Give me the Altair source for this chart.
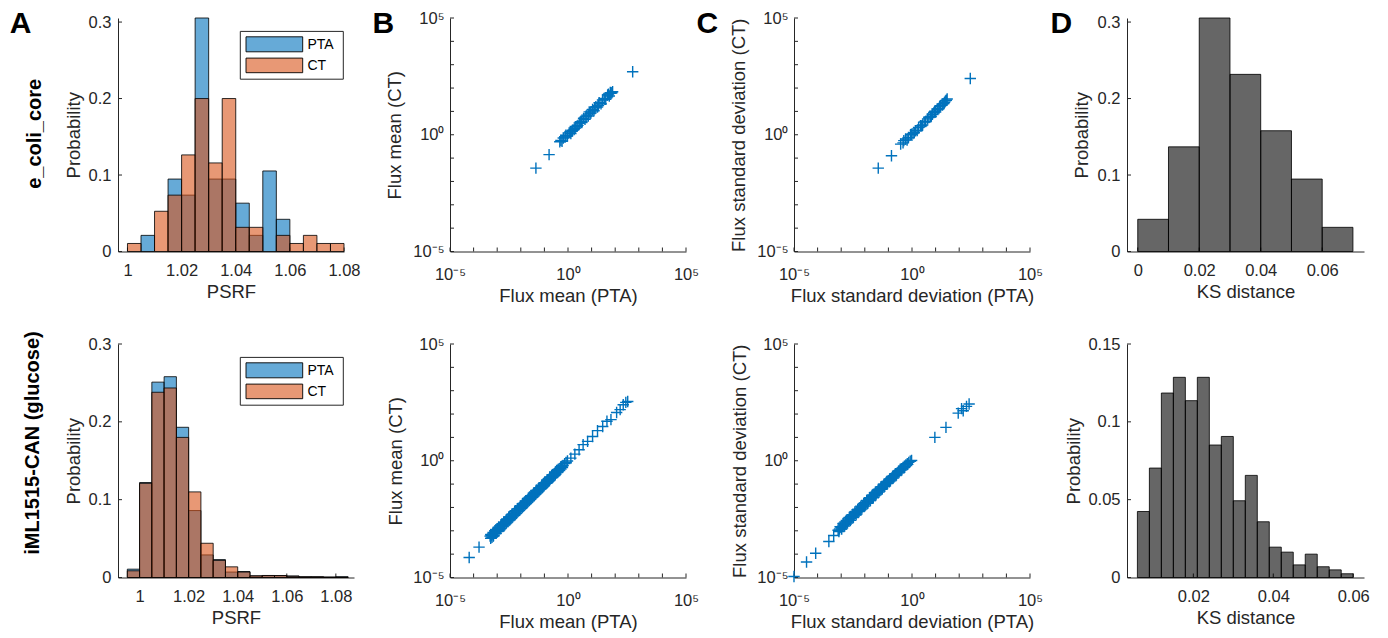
import altair as alt
import pandas as pd

FONT = "Liberation Sans"
INK = "#262626"
PTA_BLUE = "#0072BD"
CT_ORANGE = "#D95319"
HEIGHT = 233.5
PLUS = "M-1,0L1,0M0,-1L0,1"

# ---------------- data ----------------
series_names = ["PTA", "CT"]
row_names = ["e_coli_core", "iML1515-CAN (glucose)"]
panel_letters = ["A", "B", "C", "D"]

# PSRF histograms (probability per bin)
ecoli_psrf_edges = [1.000, 1.005, 1.010, 1.015, 1.020, 1.025, 1.030, 1.035, 1.040,
                    1.045, 1.050, 1.055, 1.060, 1.065, 1.070, 1.075, 1.080]
ecoli_psrf_pta = [0, 0.0211, 0, 0.0947, 0.0737, 0.3053, 0.0947, 0.0947,
                  0.0632, 0.0211, 0.1053, 0.0421, 0, 0, 0, 0]
ecoli_psrf_ct = [0.0105, 0, 0.0526, 0.0737, 0.1263, 0.2000, 0.1158, 0.2000,
                 0.0316, 0.0316, 0, 0.0211, 0.0105, 0.0211, 0.0105, 0.0105]

iml_psrf_edges = [0.995, 1.000, 1.005, 1.010, 1.015, 1.020, 1.025, 1.030, 1.035, 1.040,
                  1.045, 1.050, 1.055, 1.060, 1.065, 1.070, 1.075, 1.080, 1.085]
iml_psrf_pta = [0.0107, 0.1220, 0.2510, 0.2580, 0.1930, 0.0860, 0.0290, 0.0230, 0.0070,
                0.0077, 0.0021, 0.0026, 0.0025, 0.0020, 0.0010, 0.0010, 0.0005, 0.0010]
iml_psrf_ct = [0.0086, 0.1210, 0.2380, 0.2435, 0.1800, 0.1100, 0.0440, 0.0220, 0.0137,
               0.0070, 0.0021, 0.0025, 0.0025, 0.0015, 0.0008, 0.0008, 0.0005, 0.0005]

# KS distance histograms
ecoli_ks_edges = [0.00, 0.01, 0.02, 0.03, 0.04, 0.05, 0.06, 0.07]
ecoli_ks_prob = [0.0421, 0.1368, 0.3053, 0.2316, 0.1579, 0.0947, 0.0316]
iml_ks_edges = [0.006, 0.009, 0.012, 0.015, 0.018, 0.021, 0.024, 0.027, 0.030, 0.033,
                0.036, 0.039, 0.042, 0.045, 0.048, 0.051, 0.054, 0.057, 0.060]
iml_ks_prob = [0.0424, 0.0703, 0.1185, 0.1286, 0.1136, 0.1286, 0.0851, 0.0906, 0.0493,
               0.0656, 0.0358, 0.0195, 0.0163, 0.0081, 0.0150, 0.0069, 0.0049, 0.0024]

# Flux means / standard deviations, PTA vs CT
ecoli_mean_pta = [0.0437, 0.158, 0.501, 0.631, 0.813, 1.12, 1.32, 1.55, 1.82, 2.14, 2.63,
                  3.31, 3.80, 4.57, 5.25, 6.31, 7.24, 7.94, 9.33, 11.0, 12.6, 15.1, 17.8,
                  20.9, 25.1, 33.9, 39.8, 47.9, 56.2, 66.1, 77.6, 550,
                  0.45, 0.56, 0.75, 0.95, 1.25, 1.45, 2.0, 2.4, 3.0, 3.9, 5.8, 8.6,
                  13.5, 19.5, 29.0, 36.5, 52.0, 62.0, 72.0]
ecoli_mean_ct = [0.0372, 0.141, 0.575, 0.724, 0.955, 1.20, 1.12, 1.55, 1.66, 2.19, 2.51,
                 3.55, 3.31, 5.01, 4.57, 6.92, 6.31, 9.55, 8.51, 12.0, 10.7, 15.8, 15.5,
                 23.4, 21.4, 36.3, 33.1, 50.1, 45.7, 58.9, 69.2, 501,
                 0.50, 0.52, 0.80, 0.88, 1.38, 1.40, 1.9, 2.3, 3.2, 3.6, 6.2, 8.0,
                 14.5, 18.0, 31.0, 33.0, 55.0, 64.0, 63.0]

ecoli_sd_pta = [0.0372, 0.135, 0.331, 0.417, 0.537, 0.708, 0.871, 1.10, 1.41, 1.66, 2.29,
                2.82, 3.80, 4.57, 6.17, 7.24, 8.51, 10.0, 11.7, 13.8, 16.2, 19.1, 22.4,
                26.3, 30.9, 295,
                0.45, 0.62, 0.95, 1.25, 1.9, 2.55, 3.3, 5.2, 6.6, 9.2, 12.5, 15.0,
                20.5, 24.0, 28.5]
ecoli_sd_ct = [0.0372, 0.126, 0.398, 0.447, 0.661, 0.759, 1.00, 1.12, 1.48, 1.51, 2.45,
               2.63, 3.72, 4.79, 5.89, 7.59, 9.12, 9.33, 12.6, 13.2, 17.4, 18.6, 21.9,
               28.2, 33.9, 257,
               0.56, 0.59, 1.05, 1.22, 2.05, 2.4, 3.5, 5.5, 6.3, 10.2, 12.1, 16.3,
               21.0, 24.5, 30.0]

iml_mean_pta = [
    6.5e-5, 1.7e-4, 5.4e-4,
    5.0e-4, 5.6e-4, 6.4e-4, 7.3e-4, 8.4e-4, 9.7e-4,
    1.1e-3, 1.3e-3, 1.5e-3, 1.7e-3, 2.0e-3, 2.3e-3, 2.6e-3, 3.0e-3, 3.5e-3, 4.0e-3,
    4.6e-3, 5.3e-3, 6.1e-3, 7.0e-3, 8.1e-3, 9.3e-3,
    0.0107, 0.0123, 0.0141, 0.0163, 0.0188, 0.0215, 0.0248, 0.0286, 0.033, 0.038,
    0.0435, 0.050, 0.0575, 0.066, 0.076, 0.088,
    0.101, 0.116, 0.134, 0.154, 0.177, 0.204, 0.235, 0.27, 0.31, 0.357, 0.41, 0.47,
    0.54, 0.62, 0.72, 0.83, 0.95,
    6.8e-4, 1.2e-3, 2.1e-3, 3.7e-3, 6.5e-3, 0.0115, 0.020, 0.036, 0.062, 0.11, 0.20, 0.38,
    8.0e-4, 1.6e-3, 3.1e-3, 5.9e-3, 0.0118, 0.0235, 0.045, 0.09, 0.17, 0.33,
    5.3e-4, 6.0e-4, 7.0e-4, 9.0e-4, 1.05e-3, 1.4e-3, 1.85e-3, 2.45e-3, 2.8e-3, 3.3e-3,
    4.3e-3, 5.0e-3, 5.7e-3, 7.6e-3, 8.7e-3, 0.0100, 0.0132, 0.0152, 0.0176, 0.023,
    0.0265, 0.031, 0.041, 0.047, 0.054, 0.071, 0.082, 0.095, 0.125, 0.145,
    0.165, 0.22, 0.25, 0.29, 0.44, 0.5, 0.58,
    5.5e-4, 6.7e-4, 8.8e-4, 1.15e-3, 1.45e-3, 1.9e-3, 2.4e-3, 3.2e-3, 4.2e-3, 5.5e-3,
    7.2e-3, 9.5e-3, 0.0125, 0.016, 0.021, 0.027, 0.035, 0.046, 0.06, 0.078,
    0.10, 0.13, 0.17, 0.22, 0.29, 0.38, 0.5,
    1.32, 1.95, 2.95, 4.37, 6.76, 11.0, 17.8, 29.5, 44.7, 66.1, 115, 162, 219, 282, 339]
iml_mean_ct = [
    7.2e-5, 2.0e-4, 6.8e-4,
    5.9e-4, 6.2e-4, 7.3e-4, 8.1e-4, 9.6e-4, 1.05e-3,
    1.25e-3, 1.4e-3, 1.7e-3, 1.85e-3, 2.25e-3, 2.5e-3, 2.9e-3, 3.2e-3, 3.9e-3, 4.3e-3,
    5.1e-3, 5.7e-3, 6.8e-3, 7.4e-3, 8.9e-3, 9.9e-3,
    0.0116, 0.0131, 0.0154, 0.0171, 0.0203, 0.0226, 0.0268, 0.0298, 0.0356, 0.0395,
    0.0466, 0.052, 0.0612, 0.0683, 0.081, 0.0905,
    0.107, 0.121, 0.141, 0.159, 0.186, 0.21, 0.246, 0.277, 0.325, 0.364, 0.43, 0.48,
    0.565, 0.63, 0.75, 0.84, 0.98,
    5.9e-4, 1.0e-3, 1.8e-3, 3.2e-3, 5.6e-3, 0.010, 0.0175, 0.031, 0.055, 0.10, 0.18, 0.34,
    1.0e-3, 2.0e-3, 3.8e-3, 7.2e-3, 0.0143, 0.028, 0.054, 0.105, 0.20, 0.38,
    4.8e-4, 5.3e-4, 6.2e-4, 7.9e-4, 9.3e-4, 1.22e-3, 1.6e-3, 2.15e-3, 2.4e-3, 2.9e-3,
    3.7e-3, 4.4e-3, 4.9e-3, 6.6e-3, 7.5e-3, 8.8e-3, 0.0114, 0.0133, 0.0152, 0.020,
    0.023, 0.027, 0.0355, 0.041, 0.047, 0.062, 0.071, 0.083, 0.108, 0.126,
    0.143, 0.19, 0.22, 0.25, 0.385, 0.44, 0.51,
    7.0e-4, 8.4e-4, 1.1e-3, 1.42e-3, 1.8e-3, 2.35e-3, 2.95e-3, 3.9e-3, 5.1e-3, 6.7e-3,
    8.7e-3, 0.0114, 0.015, 0.019, 0.025, 0.032, 0.041, 0.054, 0.07, 0.09,
    0.116, 0.15, 0.195, 0.25, 0.325, 0.42, 0.55,
    1.29, 1.93, 2.95, 4.9, 6.76, 11.0, 19.5, 29.5, 49.0, 57.5, 117, 155, 251, 316, 347]

iml_sd_pta = [
    1.0e-5, 3.4e-5, 8.3e-5, 3.0e-4, 4.8e-4,
    7.4e-4, 8.5e-4, 9.8e-4, 1.13e-3, 1.3e-3, 1.5e-3, 1.72e-3, 2.0e-3, 2.3e-3, 2.65e-3,
    3.05e-3, 3.5e-3, 4.0e-3, 4.6e-3, 5.3e-3, 6.1e-3, 7.0e-3, 8.1e-3, 9.3e-3,
    0.0107, 0.0123, 0.0142, 0.0163, 0.0188, 0.0216, 0.0249, 0.0286, 0.033, 0.038,
    0.0437, 0.0503, 0.058, 0.0667, 0.0768, 0.0884,
    0.102, 0.117, 0.135, 0.155, 0.178, 0.205, 0.236, 0.272, 0.313, 0.36, 0.415, 0.477,
    0.55, 0.63, 0.73, 0.84, 0.96,
    1.6e-3, 3.3e-3, 6.6e-3, 0.0135, 0.027, 0.055, 0.11, 0.22, 0.45,
    1.2e-3, 2.5e-3, 5.0e-3, 0.010, 0.020, 0.040, 0.080, 0.16, 0.32,
    8.0e-4, 1.05e-3, 1.4e-3, 1.85e-3, 2.45e-3, 3.2e-3, 4.3e-3, 5.7e-3, 7.5e-3, 0.0099,
    0.0131, 0.0173, 0.0229, 0.030, 0.040, 0.053, 0.070, 0.092, 0.122, 0.16,
    0.21, 0.28, 0.37, 0.49, 0.66,
    9.0e-4, 1.25e-3, 1.65e-3, 2.2e-3, 2.9e-3, 3.8e-3, 5.1e-3, 6.8e-3, 9.0e-3, 0.012,
    0.0158, 0.021, 0.028, 0.037, 0.049, 0.065, 0.086, 0.113, 0.15, 0.2, 0.27,
    9.3, 27.5, 91, 126, 148, 204, 263]
iml_sd_ct = [
    1.1e-5, 4.6e-5, 1.1e-4, 3.5e-4, 6.3e-4,
    1.05e-3, 1.2e-3, 1.4e-3, 1.55e-3, 1.85e-3, 2.1e-3, 2.45e-3, 2.75e-3, 3.25e-3, 3.7e-3,
    4.3e-3, 4.85e-3, 5.6e-3, 6.4e-3, 7.5e-3, 8.4e-3, 9.8e-3, 0.0112, 0.013,
    0.0148, 0.0172, 0.0195, 0.0228, 0.0258, 0.0302, 0.0343, 0.0396, 0.0452, 0.0525,
    0.0596, 0.069, 0.0785, 0.091, 0.103, 0.12,
    0.136, 0.157, 0.178, 0.205, 0.232, 0.268, 0.303, 0.35, 0.395, 0.455, 0.515, 0.585,
    0.66, 0.75, 0.85, 0.95, 1.03,
    1.9e-3, 3.9e-3, 7.8e-3, 0.016, 0.032, 0.064, 0.125, 0.25, 0.5,
    2.0e-3, 4.1e-3, 8.0e-3, 0.0158, 0.031, 0.061, 0.118, 0.225, 0.43,
    9.4e-4, 1.2e-3, 1.6e-3, 2.15e-3, 2.8e-3, 3.7e-3, 4.9e-3, 6.6e-3, 8.6e-3, 0.0114,
    0.015, 0.0199, 0.026, 0.0345, 0.046, 0.06, 0.08, 0.105, 0.138, 0.18,
    0.235, 0.31, 0.405, 0.53, 0.7,
    1.5e-3, 2.1e-3, 2.75e-3, 3.7e-3, 4.85e-3, 6.4e-3, 8.5e-3, 0.0113, 0.015, 0.0198,
    0.026, 0.0345, 0.045, 0.059, 0.077, 0.1, 0.13, 0.168, 0.215, 0.28, 0.36,
    10.0, 26.9, 110, 170, 138, 214, 269]

# tick positions
decades = [1e-5, 1e-4, 1e-3, 1e-2, 1e-1, 1, 1e1, 1e2, 1e3, 1e4, 1e5]
log_labels = [1e-5, 1, 1e5]
psrf_ticks = [1, 1.02, 1.04, 1.06, 1.08]
prob_ticks = [0, 0.1, 0.2, 0.3]
ks_ticks_top = [0, 0.02, 0.04, 0.06]
ks_ticks_bottom = [0.02, 0.04, 0.06]
prob_ticks_fine = [0, 0.05, 0.1, 0.15]

LOG_LABEL = "datum.value < 0.001 ? '10\u207b\u2075' : (datum.value > 1000 ? '10\u2075' : '10\u2070')"
NUM_FORMAT = ".3~g"


# ---------------- helpers ----------------
def one_row(**kw):
    return pd.DataFrame({k: [v] for k, v in kw.items()})


def bins_frame(edges, probs):
    rows = [{"lo": edges[i], "hi": edges[i + 1], "p": probs[i]}
            for i in range(len(probs)) if probs[i] > 0]
    return pd.DataFrame(rows)


def lin_x_axis(title, values):
    return alt.Axis(title=title, values=values, format=NUM_FORMAT, labelPadding=11,
                    titlePadding=3, labelFlush=False)


def lin_y_axis(title, values, title_x):
    return alt.Axis(title=title, values=values, format=NUM_FORMAT, labelPadding=7,
                    titleX=title_x, titleBaseline="alphabetic", labelFlush=False)


def log_x_axis(title):
    return alt.Axis(title=title, values=log_labels, labelExpr=LOG_LABEL,
                    labelPadding=15, titlePadding=3, labelFlush=False)


def log_y_axis(title, title_x):
    return alt.Axis(title=title, values=log_labels, labelExpr=LOG_LABEL,
                    labelPadding=6, titleX=title_x, titleBaseline="alphabetic",
                    labelFlush=False)


def x_ticks(values, scale, axis):
    # inward tick marks along the bottom axis
    return alt.Chart(pd.DataFrame({"t": values})).mark_rule(color=INK, strokeWidth=1).encode(
        x=alt.X("t:Q", scale=scale, axis=axis),
        y=alt.value(HEIGHT), y2=alt.value(HEIGHT - 4))


def y_ticks(values, scale, axis):
    # inward tick marks along the left axis
    return alt.Chart(pd.DataFrame({"t": values})).mark_rule(color=INK, strokeWidth=1).encode(
        y=alt.Y("t:Q", scale=scale, axis=axis),
        x=alt.value(0), x2=alt.value(4))


def bar_layer(edges, probs, color, xs, xa, ys, ya):
    return alt.Chart(bins_frame(edges, probs)).mark_rect(
        fill=color, fillOpacity=0.6, stroke="black", strokeWidth=0.9, strokeOpacity=0.9
    ).encode(
        x=alt.X("lo:Q", scale=xs, axis=xa), x2="hi:Q",
        y=alt.Y("p:Q", scale=ys, axis=ya), y2=alt.Y2Datum(0))


def letter(text, dx):
    return alt.Chart(one_row(label=text)).mark_text(
        font=FONT, fontSize=30, fontWeight="bold", color="black",
        align="left", baseline="alphabetic"
    ).encode(text="label:N", x=alt.value(dx), y=alt.value(14.8))


def row_label(text, dx, cy):
    return alt.Chart(one_row(label=text)).mark_text(
        font=FONT, fontSize=20, fontWeight="bold", color="black",
        align="center", baseline="alphabetic", angle=270
    ).encode(text="label:N", x=alt.value(dx), y=alt.value(cy))


def legend_layers():
    box = alt.Chart(one_row(k=0)).mark_rect(
        fill="white", stroke=INK, strokeWidth=1
    ).encode(x=alt.value(122.3), x2=alt.value(225.3), y=alt.value(13.4), y2=alt.value(61.2))
    out = [box]
    rows = [(18.8, 33.8), (40.1, 54.7)]
    for name, color, (y0, y1) in zip(series_names, [PTA_BLUE, CT_ORANGE], rows):
        out.append(alt.Chart(one_row(k=0)).mark_rect(
            fill=color, fillOpacity=0.6, stroke="black", strokeWidth=0.9
        ).encode(x=alt.value(128), x2=alt.value(184.7), y=alt.value(y0), y2=alt.value(y1)))
        out.append(alt.Chart(one_row(label=name)).mark_text(
            font=FONT, fontSize=14, color="black", align="left", baseline="middle"
        ).encode(text="label:N", x=alt.value(189.5), y=alt.value((y0 + y1) / 2 + 0.5)))
    return out


def psrf_panel(edges, pta, ct, x_domain, width, extra):
    xs = alt.Scale(domain=x_domain, nice=False, zero=False)
    ys = alt.Scale(domain=[0, 0.3053] if width < 230 else [0, 0.3], nice=False)
    xa = lin_x_axis("PSRF", psrf_ticks)
    ya = lin_y_axis("Probability", prob_ticks, -39)
    layers = [x_ticks(psrf_ticks, xs, xa), y_ticks(prob_ticks, ys, ya),
              bar_layer(edges, pta, PTA_BLUE, xs, xa, ys, ya),
              bar_layer(edges, ct, CT_ORANGE, xs, xa, ys, ya)]
    layers += legend_layers() + extra
    return alt.layer(*layers).properties(width=width, height=HEIGHT)


def ks_panel(edges, probs, x_domain, y_domain, xticks, yticks, title_x, extra):
    xs = alt.Scale(domain=x_domain, nice=False, zero=False)
    ys = alt.Scale(domain=y_domain, nice=False)
    xa = lin_x_axis("KS distance", xticks)
    ya = lin_y_axis("Probability", yticks, title_x)
    layers = [x_ticks(xticks, xs, xa), y_ticks(yticks, ys, ya),
              bar_layer(edges, probs, "#000000", xs, xa, ys, ya)] + extra
    return alt.layer(*layers).properties(width=237, height=HEIGHT)


def flux_panel(xvals, yvals, xtitle, ytitle, title_x, extra):
    xs = alt.Scale(type="log", domain=[1e-5, 1e5], nice=False)
    ys = alt.Scale(type="log", domain=[1e-5, 1e5], nice=False)
    xa = log_x_axis(xtitle)
    ya = log_y_axis(ytitle, title_x)
    pts = alt.Chart(pd.DataFrame({"pta": xvals, "ct": yvals})).mark_point(
        shape=PLUS, filled=False, color=PTA_BLUE, strokeWidth=1.4, size=130, opacity=1
    ).encode(x=alt.X("pta:Q", scale=xs, axis=xa), y=alt.Y("ct:Q", scale=ys, axis=ya))
    layers = [x_ticks(decades, xs, xa), y_ticks(decades, ys, ya), pts] + extra
    return alt.layer(*layers).properties(width=236, height=HEIGHT)


def spacer(w):
    return alt.Chart(one_row(k=0)).mark_point(opacity=0).encode(
        x=alt.value(0), y=alt.value(0)).properties(width=w, height=HEIGHT)


# fixes the top-left corner of the whole figure
anchor = alt.Chart(one_row(k=0)).mark_rule(strokeOpacity=0).encode(
    x=alt.value(-112.3), x2=alt.value(-112.3), y=alt.value(-12.2), y2=alt.value(-12.2))

# ---------------- panels ----------------
a1 = psrf_panel(ecoli_psrf_edges, ecoli_psrf_pta, ecoli_psrf_ct, [0.9965, 1.080], 226,
                [anchor, letter(panel_letters[0], -108.3), row_label(row_names[0], -77.3, 115.8)])
a2 = psrf_panel(iml_psrf_edges, iml_psrf_pta, iml_psrf_ct, [0.9912, 1.0874], 236,
                [row_label(row_names[1], -79.3, 99.0)])

b1 = flux_panel(ecoli_mean_pta, ecoli_mean_ct, "Flux mean (PTA)", "Flux mean (CT)", -50,
                [letter(panel_letters[1], -77.5)])
b2 = flux_panel(iml_mean_pta, iml_mean_ct, "Flux mean (PTA)", "Flux mean (CT)", -49, [])

c1 = flux_panel(ecoli_sd_pta, ecoli_sd_ct, "Flux standard deviation (PTA)",
                "Flux standard deviation (CT)", -50, [letter(panel_letters[2], -97.5)])
c2 = flux_panel(iml_sd_pta, iml_sd_ct, "Flux standard deviation (PTA)",
                "Flux standard deviation (CT)", -49, [])

d1 = ks_panel(ecoli_ks_edges, ecoli_ks_prob, [-0.0035, 0.0736], [0, 0.3053],
              ks_ticks_top, prob_ticks, -40, [letter(panel_letters[3], -76.5)])
d2 = ks_panel(iml_ks_edges, iml_ks_prob, [0.0034, 0.0627], [0, 0.15],
              ks_ticks_bottom, prob_ticks_fine, -48, [])

cells = [a1, spacer(96), b1, spacer(108), c1, spacer(97), d1,
         a2, spacer(96), b2, spacer(108), c2, spacer(97), d2]

chart = alt.concat(
    *cells, columns=7, spacing={"row": 92, "column": 0}, bounds="flush", align="each"
).resolve_scale(
    x="independent", y="independent"
).properties(
    padding={"left": 5, "top": 5, "right": 5, "bottom": 5}, background="white"
).configure_view(
    stroke="transparent"
).configure_axis(
    labelFont=FONT, titleFont=FONT, labelFontSize=16.5, titleFontSize=18.5,
    labelColor=INK, titleColor=INK, titleFontWeight="normal",
    domainColor=INK, domainWidth=1, ticks=False, grid=False
)

chart.save("out.html", embed_options={"renderer": "svg", "actions": False})
